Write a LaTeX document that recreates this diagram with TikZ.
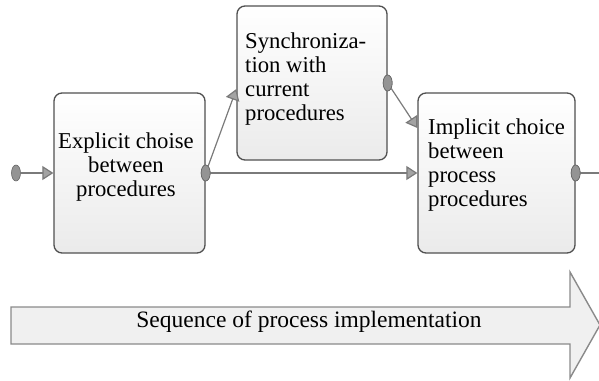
\documentclass[tikz,border=0pt]{standalone}
\usepackage{fontspec}
\setmainfont{Liberation Serif}
\usetikzlibrary{arrows.meta,shapes.geometric,calc}
\definecolor{edgegray}{HTML}{7A7A7A}
\definecolor{boxline}{HTML}{505050}
\definecolor{headfill}{HTML}{A3A3A3}
\definecolor{bandfill}{HTML}{F0F0F0}
\definecolor{bandline}{HTML}{8A8A8A}
\tikzset{
  procbox/.style={draw=boxline, line width=1.3pt, rounded corners=8pt,
    top color=white, bottom color=black!8, inner sep=0pt},
  boxlabel/.style={font=\fontsize{22.7}{24}\selectfont, inner sep=0pt, align=left},
  joint/.style={ellipse, draw=black!60, fill=black!42, line width=0.6pt,
    minimum width=9pt, minimum height=16pt, inner sep=0pt},
  flow/.style={draw=edgegray, line width=1.2pt,
    -{Triangle[length=11pt,width=14pt,fill=headfill]}},
  band/.style={draw=bandline, line width=1.4pt, fill=bandfill, line join=miter},
}
\begin{document}
\begin{tikzpicture}[x=1pt,y=-1pt]
  \useasboundingbox (0,0) rectangle (599,380);
  \clip (0,0) rectangle (599,380);

  % process boxes
  \node[procbox, minimum width=151pt, minimum height=160pt] (b1) at (129.5,173) {};
  \node[procbox, minimum width=150pt, minimum height=154pt] (b2) at (312,83) {};
  \node[procbox, minimum width=157pt, minimum height=160pt] (b3) at (496.5,173) {};

  % box texts
  \node[boxlabel, align=center, anchor=north] (t1) at (126,133)
    {Explicit choise\\between\\procedures};
  \node[boxlabel, anchor=north west] (t2) at (245,33)
    {Synchroniza-\\tion with\\current\\procedures};
  \node[boxlabel, anchor=north west] (t3) at (428,118.5)
    {Implicit choice\\between\\process\\procedures};

  % connection points
  \node[joint] (e0) at (16,173) {};
  \node[joint] (e1) at (b1.east) {};
  \node[joint] (e2) at (b2.east) {};
  \node[joint] (e3) at (b3.east) {};
  \coordinate (in2) at ($(b2.west)+(0,6)$);
  \coordinate (in3) at ($(b3.west)+(0,-45)$);
  \coordinate (out) at (610,173);

  % connectors
  \draw[flow] (e0) -- (b1.west);
  \draw[flow] (e1) -- (in2);
  \draw[flow] (e1) -- (b3.west);
  \draw[flow] (e2) -- (in3);
  \draw[flow] (e3) -- (out);

  % redraw joints above the lines
  \node[joint] at (e1) {};
  \node[joint] at (e2) {};
  \node[joint] at (e3) {};

  % sequence band
  \draw[band] (11,307) -- (570,307) -- (570,272) -- (600,325)
    -- (570,378) -- (570,344) -- (11,344) -- cycle;
  \node[font=\fontsize{23.5}{26}\selectfont, inner sep=0pt, anchor=base] (seq)
    at (309,327) {Sequence of process implementation};
\end{tikzpicture}
\end{document}
